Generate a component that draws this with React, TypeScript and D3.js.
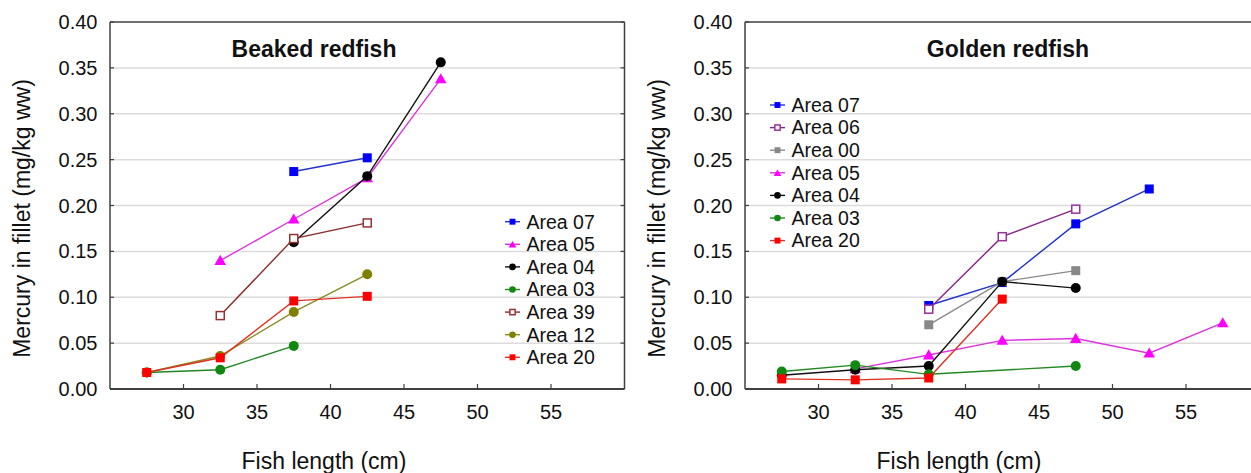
import React from "react";
import * as d3 from "d3";

// ---------- data ----------
const lengths = [27.5, 32.5, 37.5, 42.5, 47.5, 52.5, 57.5];
const yTicks = [0, 0.05, 0.1, 0.15, 0.2, 0.25, 0.3, 0.35, 0.4];
const xTicks = [30, 35, 40, 45, 50, 55];

const beakedNames = ["Area 07", "Area 05", "Area 04", "Area 03", "Area 39", "Area 12", "Area 20"];
const beaked07 = [null, null, 0.237, 0.252];
const beaked05 = [null, 0.14, 0.185, 0.23, 0.338];
const beaked04 = [null, null, 0.16, 0.232, 0.356];
const beaked03 = [0.018, 0.021, 0.047];
const beaked39 = [null, 0.08, 0.164, 0.181];
const beaked12 = [0.018, 0.036, 0.084, 0.125];
const beaked20 = [0.018, 0.034, 0.096, 0.101];

const goldenNames = ["Area 07", "Area 06", "Area 00", "Area 05", "Area 04", "Area 03", "Area 20"];
const golden07 = [null, null, 0.091, 0.116, 0.18, 0.218];
const golden06 = [null, null, 0.087, 0.166, 0.196];
const golden00 = [null, null, 0.07, 0.117, 0.129];
const golden05 = [null, 0.022, 0.037, 0.053, 0.055, 0.039, 0.072];
const golden04 = [0.015, 0.021, 0.025, 0.117, 0.11];
const golden03 = [0.019, 0.026, 0.016, null, 0.025];
const golden20 = [0.011, 0.01, 0.012, 0.098];

type Style = { line: string; fill: string; stroke: string; shape: "square" | "circle" | "triangle"; open?: boolean };

const S = {
  blue: { line: "#2233cc", fill: "#0000ff", stroke: "#0000ff", shape: "square" } as Style,
  magenta: { line: "#dd33dd", fill: "#ff00ff", stroke: "#ff00ff", shape: "triangle" } as Style,
  black: { line: "#111111", fill: "#000000", stroke: "#000000", shape: "circle" } as Style,
  green: { line: "#228822", fill: "#118811", stroke: "#118811", shape: "circle" } as Style,
  brown: { line: "#8b2b2b", fill: "#ffffff", stroke: "#993333", shape: "square", open: true } as Style,
  olive: { line: "#8b8b22", fill: "#808000", stroke: "#808000", shape: "circle" } as Style,
  red: { line: "#dd3322", fill: "#ff0000", stroke: "#ff0000", shape: "square" } as Style,
  purple: { line: "#882288", fill: "#ffffff", stroke: "#993399", shape: "square", open: true } as Style,
  gray: { line: "#8a8a8a", fill: "#888888", stroke: "#888888", shape: "square" } as Style,
};

const beakedSeries = [
  { name: beakedNames[0], values: beaked07, style: S.blue },
  { name: beakedNames[1], values: beaked05, style: S.magenta },
  { name: beakedNames[2], values: beaked04, style: S.black },
  { name: beakedNames[3], values: beaked03, style: S.green },
  { name: beakedNames[4], values: beaked39, style: S.brown },
  { name: beakedNames[5], values: beaked12, style: S.olive },
  { name: beakedNames[6], values: beaked20, style: S.red },
];
const goldenSeries = [
  { name: goldenNames[0], values: golden07, style: S.blue },
  { name: goldenNames[1], values: golden06, style: S.purple },
  { name: goldenNames[2], values: golden00, style: S.gray },
  { name: goldenNames[3], values: golden05, style: S.magenta },
  { name: goldenNames[4], values: golden04, style: S.black },
  { name: goldenNames[5], values: golden03, style: S.green },
  { name: goldenNames[6], values: golden20, style: S.red },
];

const FONT = "'Liberation Sans', Arial, Helvetica, sans-serif";

function Marker({ x, y, st, scale = 1 }: { x: number; y: number; st: Style; scale?: number }) {
  if (st.shape === "square") {
    const s = (st.open ? 8 : 9) * scale;
    return (
      <rect x={x - s / 2} y={y - s / 2} width={s} height={s}
        fill={st.fill} stroke={st.open ? st.stroke : "none"} strokeWidth={st.open ? 1.5 : 0} />
    );
  }
  if (st.shape === "circle") {
    return <circle cx={x} cy={y} r={5 * scale} fill={st.fill} />;
  }
  const d = d3.symbol().type(d3.symbolTriangle).size(58 * scale * scale)();
  return <path d={d || ""} transform={`translate(${x},${y + 1})`} fill={st.fill} />;
}

type Series = { name: string; values: (number | null)[]; style: Style };

function Panel({ x0, title, titleX, series, legendX, legendY }: {
  x0: number; title: string; titleX: number; series: Series[]; legendX: number; legendY: number;
}) {
  const top = 22, bottom = 389, width = 514.5;
  const x = d3.scaleLinear().domain([25, 60]).range([x0, x0 + width]);
  const y = d3.scaleLinear().domain([0, 0.4]).range([bottom, top]);
  const line = d3.line<[number, number]>().x((d) => x(d[0])).y((d) => y(d[1]));
  const frame = "#404040";
  return (
    <g fontFamily={FONT}>
      {yTicks.filter((t) => t > 0 && t < 0.4).map((t) => (
        <line key={"g" + t} x1={x0} x2={x0 + width} y1={y(t)} y2={y(t)} stroke="#dcdcdc" strokeWidth={1.5} />
      ))}
      {/* frame */}
      <line x1={x0} x2={x0 + width} y1={top} y2={top} stroke={frame} strokeWidth={1.5} />
      <line x1={x0 + width} x2={x0 + width} y1={top} y2={bottom} stroke={frame} strokeWidth={1.5} />
      <line x1={x0} x2={x0} y1={top} y2={bottom} stroke={frame} strokeWidth={1.5} />
      <line x1={x0} x2={x0 + width} y1={bottom} y2={bottom} stroke={frame} strokeWidth={2} />
      {yTicks.map((t) => (
        <g key={"yt" + t}>
          <line x1={x0} x2={x0 + 4} y1={y(t)} y2={y(t)} stroke={frame} strokeWidth={1.2} />
          <line x1={x0 + width} x2={x0 + width - 4} y1={y(t)} y2={y(t)} stroke={frame} strokeWidth={1.2} />
          <text x={x0 - 12.5} y={y(t)} dy="0.35em" textAnchor="end" fontSize={20} fill="#111">
            {t.toFixed(2)}
          </text>
        </g>
      ))}
      {xTicks.map((t) => (
        <g key={"xt" + t}>
          <line x1={x(t)} x2={x(t)} y1={bottom} y2={bottom - 5} stroke={frame} strokeWidth={1.2} />
          <text x={x(t)} y={419} textAnchor="middle" fontSize={20} fill="#111">{t}</text>
        </g>
      ))}
      <text x={x0 + 214} y={469} textAnchor="middle" fontSize={23} fill="#111">Fish length (cm)</text>
      <text transform={`translate(${x0 - 80.5},218.5) rotate(-90)`} textAnchor="middle" fontSize={23} fill="#111">
        Mercury in fillet (mg/kg ww)
      </text>
      <text x={titleX} y={56.5} textAnchor="middle" fontSize={23} fontWeight="bold" fill="#111">{title}</text>
      {series.map((s) => {
        const pts = s.values
          .map((v, i) => [lengths[i], v] as [number, number | null])
          .filter((p) => p[1] !== null) as [number, number][];
        return (
          <g key={s.name}>
            <path d={line(pts) || ""} fill="none" stroke={s.style.line} strokeWidth={1.4} />
            {pts.map((p, i) => (
              <Marker key={i} x={x(p[0])} y={y(p[1])} st={s.style} />
            ))}
          </g>
        );
      })}
      {series.map((s, i) => {
        const ly = legendY + i * 22.6;
        return (
          <g key={"lg" + s.name}>
            <line x1={legendX} x2={legendX + 15} y1={ly} y2={ly} stroke={s.style.line} strokeWidth={1.4} />
            <Marker x={legendX + 7.5} y={ly} st={s.style} scale={0.66} />
            <text x={legendX + 21.5} y={ly} dy="0.35em" fontSize={19.5} fill="#111">{s.name}</text>
          </g>
        );
      })}
    </g>
  );
}

export default function App() {
  return (
    <svg width={1251} height={473} style={{ position: "absolute", left: 0, top: 0, background: "#fff" }}>
      <rect width={1251} height={473} fill="#fff" />
      <Panel x0={110} title="Beaked redfish" titleX={314} series={beakedSeries} legendX={505} legendY={221.7} />
      <Panel x0={745} title="Golden redfish" titleX={1008} series={goldenSeries} legendX={770} legendY={105} />
    </svg>
  );
}
